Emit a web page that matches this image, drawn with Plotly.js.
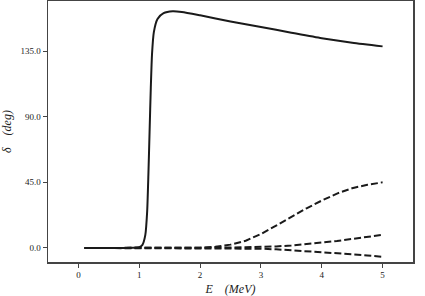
<!DOCTYPE html>
<html>
<head>
<meta charset="utf-8">
<script src="https://cdn.plot.ly/plotly-3.0.1.min.js"></script>
<style>html,body{margin:0;padding:0;background:#fff;}#chart{width:425px;height:296px;}</style>
</head>
<body>
<div id="chart"></div>
<script>
// Solid curve (resonant phase shift)
const solidE = [0.1, 0.5, 0.9, 1.0, 1.05, 1.1, 1.13, 1.15, 1.17, 1.19, 1.21, 1.24, 1.3, 1.4, 1.55, 1.7, 2.0, 2.5, 3.0, 3.5, 4.0, 4.5, 5.0];
const solidDelta = [0, 0, 0.2, 0.6, 2, 9, 25, 50, 80, 110, 133, 148, 157, 161, 162.3, 161.8, 159.5, 155.3, 151.5, 147.6, 143.8, 140.7, 138.2];

// Dashed curves
const dashE = [0.1, 0.5, 1.0, 1.5, 2.0, 2.25, 2.5, 2.75, 3.0, 3.25, 3.5, 3.75, 4.0, 4.25, 4.5, 4.75, 5.0];
const dash1Delta = [0, 0, 0, -0.2, 0.2, 0.8, 2.3, 5, 9.6, 15.3, 21.5, 27.2, 32.5, 37.3, 41.0, 43.3, 45.0];
const dash2Delta = [0, 0, 0, -0.2, 0, 0.1, 0.3, 0.5, 0.7, 1.1, 1.7, 2.6, 3.6, 4.8, 6.2, 7.6, 9.0];
const dash3Delta = [0, 0, 0, -0.2, 0, 0, -0.1, -0.3, -0.5, -0.9, -1.5, -2.1, -2.8, -3.5, -4.3, -5.1, -6.0];

const xTicks = [0, 1, 2, 3, 4, 5];
const yTicks = [0, 45, 90, 135];

const lineColor = '#1a1a1a';
const traces = [
  {x: dashE, y: dash3Delta, mode: 'lines', line: {color: lineColor, width: 2, dash: '7px,3px'}},
  {x: dashE, y: dash2Delta, mode: 'lines', line: {color: lineColor, width: 2, dash: '7px,3px'}},
  {x: dashE, y: dash1Delta, mode: 'lines', line: {color: lineColor, width: 2, dash: '7px,3px'}},
  {x: solidE, y: solidDelta, mode: 'lines', line: {color: lineColor, width: 2, shape: 'spline', smoothing: 0.6}}
];

const serif = '"Liberation Serif", "Times New Roman", Times, serif';
const tickFont = {family: serif, size: 9, color: '#222'};
const layout = {
  width: 425, height: 296,
  margin: {l: 48, r: 12, t: 1, b: 34},
  paper_bgcolor: '#fff', plot_bgcolor: '#fff',
  showlegend: false,
  xaxis: {
    range: [-0.5, 5.5], tickvals: xTicks, ticktext: xTicks.map(String),
    showgrid: false, zeroline: false,
    showline: true, mirror: true, linecolor: '#444', linewidth: 1.5,
    ticks: 'outside', ticklen: 4, tickcolor: '#444', tickwidth: 1,
    tickfont: tickFont,
    title: {text: '<i>E</i>    <i>(MeV)</i>', font: {family: serif, size: 12, color: '#222'}, standoff: 11}
  },
  yaxis: {
    range: [-9.6, 169.3], tickvals: yTicks, ticktext: yTicks.map(v => v.toFixed(1)),
    showgrid: false, zeroline: false,
    showline: true, mirror: true, linecolor: '#444', linewidth: 1.5,
    ticks: 'outside', ticklen: 4, tickcolor: '#444', tickwidth: 1,
    tickfont: tickFont,
    title: {text: '<i>δ</i>    <i>(deg)</i>', font: {family: serif, size: 12, color: '#222'}, standoff: 12}
  }
};
Plotly.newPlot('chart', traces, layout, {staticPlot: true, displayModeBar: false});
</script>
</body>
</html>
